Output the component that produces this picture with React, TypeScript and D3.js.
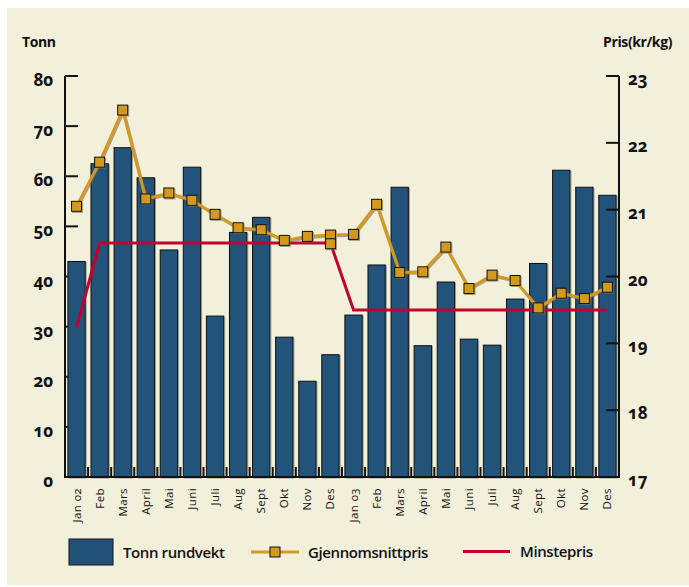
import React from 'react';
import * as d3 from 'd3';

// Måneder 2002–2003
const months = [
  'Jan 02', 'Feb', 'Mars', 'April', 'Mai', 'Juni', 'Juli', 'Aug', 'Sept', 'Okt', 'Nov', 'Des',
  'Jan 03', 'Feb', 'Mars', 'April', 'Mai', 'Juni', 'Juli', 'Aug', 'Sept', 'Okt', 'Nov', 'Des',
];

// Tonn rundvekt (venstre akse)
const tonn = [
  43, 62.5, 65.7, 59.7, 45.3, 61.8, 32.1, 48.8, 51.8, 27.9, 19.1, 24.4,
  32.3, 42.3, 57.8, 26.2, 38.9, 27.5, 26.3, 35.5, 42.6, 61.2, 57.8, 56.2,
];

// Gjennomsnittspris kr/kg (høyre akse)
const snittpris = [
  21.05, 21.71, 22.49, 21.16, 21.25, 21.14, 20.93, 20.73, 20.7, 20.54, 20.6, 20.62,
  20.63, 21.08, 20.06, 20.07, 20.44, 19.82, 20.02, 19.94, 19.53, 19.75, 19.67, 19.84,
];
// ekstra markør som ligger over Des 02 i originalen
const ekstraMarkor = [{ idx: 11, value: 20.49 }];

// Minstepris kr/kg
const minstepris = [
  19.24, 20.5, 20.5, 20.5, 20.5, 20.5, 20.5, 20.5, 20.5, 20.5, 20.5, 20.5,
  19.5, 19.5, 19.5, 19.5, 19.5, 19.5, 19.5, 19.5, 19.5, 19.5, 19.5, 19.5,
];

const leftTicks = [0, 10, 20, 30, 40, 50, 60, 70, 80];
const rightTicks = [17, 18, 19, 20, 21, 22, 23];

const W = 689;
const H = 587;
const x0 = 65;
const x1 = 619;
const yTop = 76;
const yBot = 477;

const BG = '#f2efdb';
const BAR = '#22527a';
const GOLD = '#d4991f';
const RED = '#c4002e';
const INK = '#111111';
const FONT = '"Open Sans", "DejaVu Sans", sans-serif';

const App: React.FC = () => {
  const x = d3.scaleBand<number>()
    .domain(d3.range(months.length))
    .range([x0, x1])
    .paddingInner(0.25)
    .paddingOuter(0.125);
  const step = x.step();
  const cx = (i: number) => (x(i) ?? 0) + x.bandwidth() / 2;

  const yL = d3.scaleLinear().domain([0, 80]).range([yBot, yTop]);
  const yR = d3.scaleLinear().domain([17, 23]).range([yBot, yTop]);

  const line = d3.line<number>()
    .x((_d, i) => cx(i))
    .y(d => yR(d));

  const boundaries = d3.range(1, months.length).map(i => x0 + i * step);
  const ms = 10;

  return (
    <svg width={W} height={H} style={{ position: 'absolute', left: 0, top: 0 }} fontFamily={FONT}>
      <defs>
        <filter id="shadow" x="-20%" y="-20%" width="140%" height="140%">
          <feDropShadow dx="1" dy="1" stdDeviation="0.6" floodColor="#6b6b5a" floodOpacity="0.6" />
        </filter>
      </defs>
      <rect x={7} y={8} width={W - 7} height={H - 10} fill={BG} />

      {/* axis titles */}
      <text x={22} y={47} fontSize={14} fontWeight={700} fill={INK} letterSpacing={-0.4}>Tonn</text>
      <text x={672} y={47} fontSize={14} fontWeight={700} fill={INK} textAnchor="end" letterSpacing={-0.4}>Pris(kr/kg)</text>

      {/* left ticks sit under the bars */}
      <g stroke={INK} strokeWidth={2}>
        {leftTicks.map(t => (
          <line key={t} x1={x0} x2={x0 + 13} y1={yL(t)} y2={yL(t)} />
        ))}
        {boundaries.map((b, i) => (
          <line key={i} x1={b} x2={b} y1={yBot} y2={yBot - 10} />
        ))}
      </g>

      {/* bars */}
      <g filter="url(#shadow)">
        {tonn.map((v, i) => (
          <rect key={i} x={x(i)} y={yL(v)} width={x.bandwidth()} height={yBot - yL(v)}
            fill={BAR} stroke={INK} strokeWidth={1} />
        ))}
      </g>

      {/* min price */}
      <path d={line(minstepris) ?? ''} fill="none" stroke={RED} strokeWidth={3} />

      {/* average price */}
      <g filter="url(#shadow)">
        <path d={line(snittpris) ?? ''} fill="none" stroke={GOLD} strokeWidth={3} />
        {snittpris.map((v, i) => (
          <rect key={i} x={cx(i) - ms / 2} y={yR(v) - ms / 2} width={ms} height={ms}
            fill={GOLD} stroke={INK} strokeWidth={1} />
        ))}
        {ekstraMarkor.map((m, i) => (
          <rect key={'e' + i} x={cx(m.idx) - ms / 2} y={yR(m.value) - ms / 2} width={ms} height={ms}
            fill={GOLD} stroke={INK} strokeWidth={1} />
        ))}
      </g>

      {/* axes */}
      <g stroke={INK} strokeWidth={2} fill="none">
        <path d={`M${x0},${yTop} V${yBot} H${x1} V${yTop}`} />
        {rightTicks.map(t => (
          <line key={t} x1={x1} x2={x1 - 13} y1={yR(t)} y2={yR(t)} />
        ))}
      </g>

      {/* tick labels */}
      <g fontSize={17} fontWeight={700} fill={INK} style={{ fontVariantNumeric: 'oldstyle-nums' }}>
        {leftTicks.map(t => (
          <text key={t} x={53} y={yL(t) + 10} textAnchor="end">{t}</text>
        ))}
        {rightTicks.map(t => (
          <text key={t} x={628} y={yR(t) + 9}>{t}</text>
        ))}
      </g>

      {/* month labels */}
      <g fontSize={11.5} fill={INK} style={{ fontVariantNumeric: 'oldstyle-nums' }} letterSpacing={0.4}>
        {months.map((m, i) => (
          <text key={i} transform={`translate(${cx(i) + 4},${488}) rotate(-90)`} textAnchor="end">{m}</text>
        ))}
      </g>

      {/* legend */}
      <g fontSize={15} fontWeight={600} fill={INK} letterSpacing={-0.4}>
        <rect x={69} y={539} width={44} height={26} fill={BAR} stroke={INK} strokeWidth={1} />
        <text x={123} y={558}>Tonn rundvekt</text>
        <line x1={251} x2={299} y1={552} y2={552} stroke={GOLD} strokeWidth={3} />
        <rect x={275 - ms / 2} y={552 - ms / 2} width={ms} height={ms} fill={GOLD} stroke={INK} strokeWidth={1} />
        <text x={308} y={558}>Gjennomsnittpris</text>
        <line x1={463} x2={510} y1={551.5} y2={551.5} stroke={RED} strokeWidth={3} />
        <text x={520} y={557}>Minstepris</text>
      </g>
    </svg>
  );
};

export default App;
